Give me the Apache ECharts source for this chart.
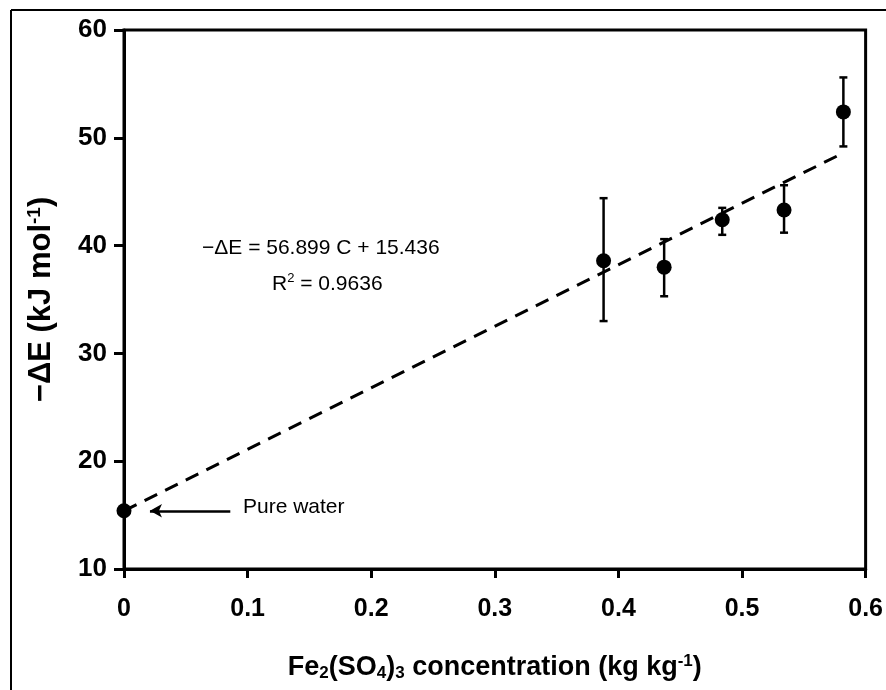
<!DOCTYPE html>
<html>
<head>
<meta charset="utf-8">
<script src="https://cdn.jsdelivr.net/npm/echarts@6/dist/echarts.min.js"></script>
<style>
  html, body { margin: 0; padding: 0; background: #fff; }
  #chart { width: 886px; height: 690px; }
</style>
</head>
<body>
<div id="chart"></div>
<script>
// measured points, Fe2(SO4)3 concentration vs -dE
var conc = [0, 0.388, 0.437, 0.484, 0.534, 0.582];
var deltaE = [15.4, 38.6, 38.0, 42.4, 43.3, 52.4];
var errLow = [null, 33.0, 35.3, 41.0, 41.2, 49.2];
var errHigh = [null, 44.4, 40.6, 43.5, 45.6, 55.6];
// regression line end points (-dE = 56.899 C + 15.436)
var fitX = [0, 0.582];
var fitY = [15.4, 48.6];
// arrow for "Pure water"
var arrowFrom = [0.086, 15.4];
var arrowTo = [0.021, 15.4];
var xTicks = [0, 0.6, 0.1];
var yTicks = [10, 60, 10];

var font = '"Liberation Sans", Arial, sans-serif';

var points = conc.map(function (c, i) { return [c, deltaE[i]]; });
var bars = [];
for (var i = 0; i < conc.length; i++) {
    if (errLow[i] !== null) bars.push([conc[i], errLow[i], errHigh[i]]);
}
var fitLine = fitX.map(function (x, i) { return [x, fitY[i]]; });

var myChart = echarts.init(document.getElementById('chart'));
myChart.setOption({
    backgroundColor: '#fff',
    animation: false,
    grid: {
        left: 124, right: 19, top: 30, bottom: 121,
        show: true, borderColor: '#000', borderWidth: 3
    },
    xAxis: {
        type: 'value',
        min: xTicks[0], max: xTicks[1], interval: xTicks[2],
        splitLine: { show: false },
        axisLine: { lineStyle: { color: '#000', width: 3 } },
        axisTick: { length: 9, lineStyle: { color: '#000', width: 3 } },
        axisLabel: { color: '#000', fontFamily: font, fontSize: 25, fontWeight: 'bold', margin: 28 },
        name: '{b|Fe}{s|2}{b|(SO}{s|4}{b|)}{s|3}{b| concentration (kg kg}{p|-1}{b|)}',
        nameLocation: 'middle',
        nameGap: 84,
        nameTextStyle: {
            rich: {
                b: { fontFamily: font, fontSize: 27, fontWeight: 'bold', color: '#000' },
                s: { fontFamily: font, fontSize: 17, fontWeight: 'bold', color: '#000', padding: [12, 0, 0, 0] },
                p: { fontFamily: font, fontSize: 17, fontWeight: 'bold', color: '#000', padding: [0, 0, 12, 0] }
            }
        }
    },
    yAxis: {
        type: 'value',
        min: yTicks[0], max: yTicks[1], interval: yTicks[2],
        splitLine: { show: false },
        axisLine: { lineStyle: { color: '#000', width: 3 } },
        axisTick: { length: 10, lineStyle: { color: '#000', width: 3 } },
        axisLabel: { color: '#000', fontFamily: font, fontSize: 26, fontWeight: 'bold', margin: 17 },
        name: '{b|\u2212\u0394E (kJ mol}{p|-1}{b|)}',
        nameLocation: 'middle',
        nameRotate: 90,
        nameGap: 66,
        nameTextStyle: {
            rich: {
                b: { fontFamily: font, fontSize: 31, fontWeight: 'bold', color: '#000' },
                p: { fontFamily: font, fontSize: 19, fontWeight: 'bold', color: '#000', padding: [0, 0, 14, 0] }
            }
        }
    },
    graphic: [
        // outer frame, only left and top edges are in the picture
        { type: 'line', shape: { x1: 11, y1: 10, x2: 11, y2: 690 }, style: { stroke: '#000', lineWidth: 2 } },
        { type: 'line', shape: { x1: 11, y1: 10, x2: 886, y2: 10 }, style: { stroke: '#000', lineWidth: 2 } },
        {
            type: 'text', left: 202, top: 238, z: 10,
            style: { text: '\u2212\u0394E = 56.899 C + 15.436', font: 'normal 21px ' + font, fill: '#000' }
        },
        {
            type: 'text', left: 272, top: 272, z: 10,
            style: {
                text: '{r|R}{s|2}{r| = 0.9636}',
                rich: {
                    r: { fontFamily: font, fontSize: 21, fill: '#000' },
                    s: { fontFamily: font, fontSize: 13, fill: '#000', padding: [0, 0, 11, 0] }
                }
            }
        },
        {
            type: 'text', left: 243, top: 497, z: 10,
            style: { text: 'Pure water', font: 'normal 21px ' + font, fill: '#000' }
        }
    ],
    series: [{
        type: 'line',
        data: fitLine,
        symbol: 'none',
        lineStyle: { color: '#000', width: 3, type: [14, 9] },
        z: 2,
        markLine: {
            silent: true,
            symbol: ['none', 'arrow'],
            symbolSize: [10, 12],
            label: { show: false },
            lineStyle: { color: '#000', width: 2.5, type: 'solid' },
            data: [[{ coord: arrowFrom }, { coord: arrowTo }]]
        }
    }, {
        type: 'custom',
        data: bars,
        z: 3,
        renderItem: function (params, api) {
            var x = api.value(0);
            var lo = api.coord([x, api.value(1)]);
            var hi = api.coord([x, api.value(2)]);
            var w = 4;
            var st = { stroke: '#000', lineWidth: 2.5 };
            return {
                type: 'group',
                children: [
                    { type: 'line', shape: { x1: hi[0], y1: hi[1], x2: lo[0], y2: lo[1] }, style: st },
                    { type: 'line', shape: { x1: hi[0] - w, y1: hi[1], x2: hi[0] + w, y2: hi[1] }, style: st },
                    { type: 'line', shape: { x1: lo[0] - w, y1: lo[1], x2: lo[0] + w, y2: lo[1] }, style: st }
                ]
            };
        }
    }, {
        type: 'scatter',
        data: points,
        symbol: 'circle',
        symbolSize: 15,
        itemStyle: { color: '#000', opacity: 1 },
        z: 4
    }]
});
</script>
</body>
</html>
